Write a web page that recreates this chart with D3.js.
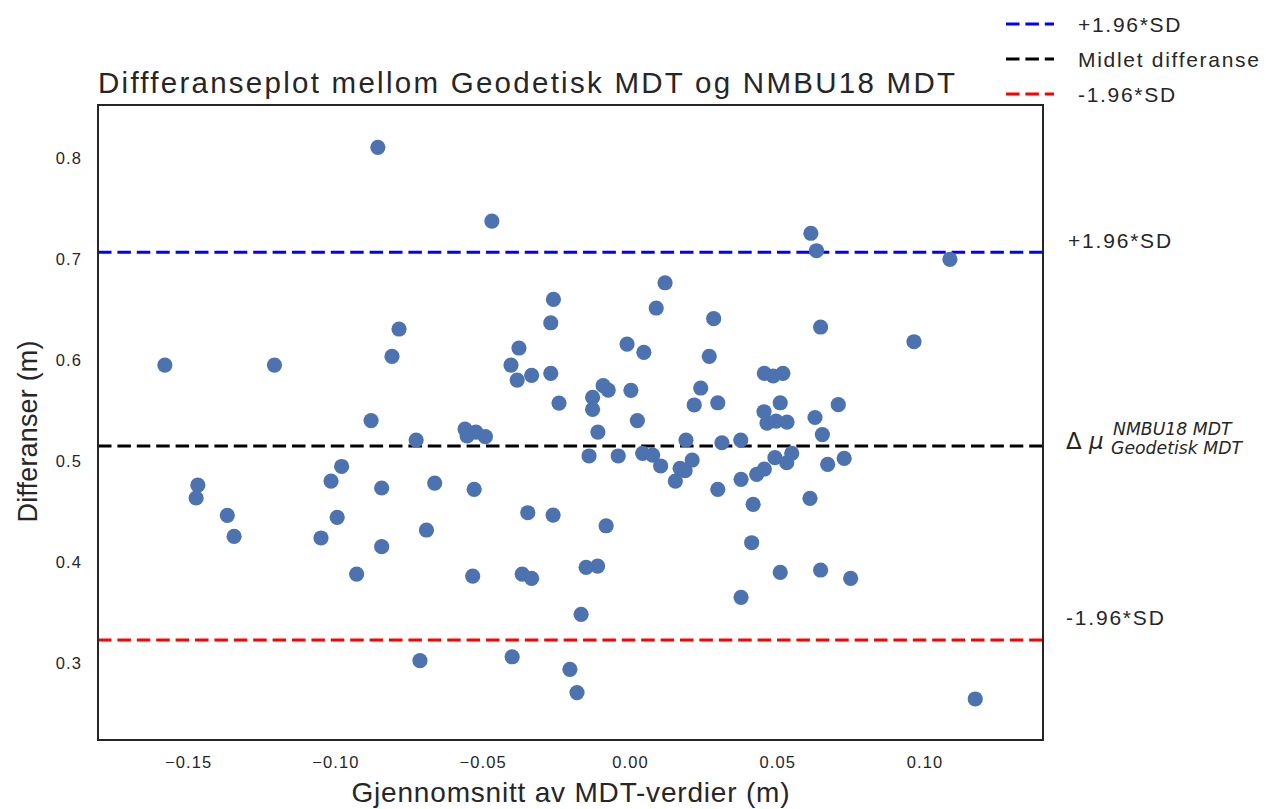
<!DOCTYPE html>
<html><head><meta charset="utf-8">
<script src="https://cdn.jsdelivr.net/npm/d3@7"></script>
<style>
body{margin:0;background:#fff;}
text{font-family:"Liberation Sans",Arial,sans-serif;fill:#262626;}
</style>
</head><body>
<svg id="c" width="1266" height="809"></svg>
<script>
// ---- data ----
const meanX = [-0.1579,-0.1207,-0.1467,-0.1473,-0.1367,-0.1344,-0.1015,-0.0994,-0.1049,-0.0979,
 -0.0928,-0.0879,-0.0856,-0.0843,-0.0843,-0.0808,-0.0784,-0.0726,-0.0713,-0.0691,
 -0.0663,-0.0560,-0.0553,-0.0523,-0.0491,-0.0529,-0.0534,-0.0469,-0.0404,-0.0400,
 -0.0383,-0.0377,-0.0366,-0.0347,-0.0334,-0.0334,-0.0269,-0.0269,-0.0260,-0.0261,
 -0.0241,-0.0204,-0.0180,-0.0166,-0.0149,-0.0110,-0.0139,-0.0127,-0.0127,-0.0109,
 -0.0091,-0.0074,-0.0081,-0.0040,-0.0010,0.0003,0.0025,0.0047,0.0043,0.0077,
 0.0089,0.0104,0.0119,0.0154,0.0170,0.0187,0.0190,0.0211,0.0218,0.0240,
 0.0269,0.0284,0.0298,0.0298,0.0312,0.0376,0.0377,0.0377,0.0413,0.0418,
 0.0430,0.0456,0.0456,0.0486,0.0519,0.0455,0.0465,0.0496,0.0533,0.0510,
 0.0492,0.0532,0.0549,0.0510,0.0611,0.0614,0.0633,0.0628,0.0647,0.0653,
 0.0671,0.0647,0.0707,0.0727,0.0749,0.0964,0.1086,0.1172];
const diffY = [0.5950,0.5950,0.4762,0.4634,0.4462,0.4254,0.4802,0.4443,0.4238,0.4946,
 0.3881,0.5401,0.8106,0.4733,0.4152,0.6037,0.6307,0.5208,0.3023,0.4317,
 0.4782,0.5317,0.5248,0.5287,0.5241,0.4720,0.3861,0.7376,0.5950,0.3062,
 0.5802,0.6119,0.3881,0.4488,0.3839,0.5849,0.6369,0.5868,0.6601,0.4465,
 0.5574,0.2938,0.2708,0.3482,0.3948,0.3960,0.5050,0.5631,0.5512,0.5287,
 0.5746,0.5703,0.4359,0.5050,0.6158,0.5700,0.5401,0.6076,0.5076,0.5059,
 0.6515,0.4951,0.6765,0.4802,0.4928,0.4904,0.5208,0.5010,0.5555,0.5723,
 0.6037,0.6409,0.5577,0.4720,0.5181,0.5208,0.4819,0.3651,0.4191,0.4571,
 0.4868,0.4921,0.5868,0.5842,0.5868,0.5488,0.5376,0.5396,0.5386,0.5577,
 0.5033,0.4983,0.5076,0.3898,0.4631,0.7255,0.7082,0.5431,0.6327,0.5262,
 0.4967,0.3921,0.5558,0.5027,0.3839,0.6181,0.6997,0.2644];
const xTicks = [-0.15,-0.10,-0.05,0.00,0.05,0.10];
const yTicks = [0.3,0.4,0.5,0.6,0.7,0.8];
const refValues = [0.7068, 0.5149, 0.3229];   // +1.96SD, mean, -1.96SD
const legendLabels = ["+1.96*SD","Midlet differanse","-1.96*SD"];
const lineColors = ["#0000ff","#000000","#ff0000"];
const titleText = "Diffferanseplot mellom Geodetisk MDT og NMBU18 MDT";
const xLabelText = "Gjennomsnitt av MDT-verdier (m)";
const yLabelText = "Differanser (m)";

// ---- layout ----
const svg = d3.select("#c");
const M = {left:98, right:1043, top:105, bottom:740};
const x = d3.scaleLinear().domain([-0.1806, 0.1402]).range([M.left, M.right]);
const y = d3.scaleLinear().domain([0.2238, 0.8525]).range([M.bottom, M.top]);
const dash = "13.5,5.9";
const mathFont = '"DejaVu Sans",sans-serif';

// title
svg.append("text").attr("x", M.left).attr("y", 93)
  .attr("font-size", 29.5).attr("textLength", 857).attr("lengthAdjust","spacing")
  .text(titleText);

// axes
const xa = svg.append("g").attr("transform",`translate(0,${M.bottom})`)
  .call(d3.axisBottom(x).tickValues(xTicks).tickSize(0).tickPadding(16).tickFormat(d3.format(".2f")));
xa.select(".domain").remove();
xa.selectAll("text").attr("font-size",16.5).attr("fill","#262626").attr("letter-spacing",1.1)
  .style("font-family",'"Liberation Sans",Arial,sans-serif');
const ya = svg.append("g").attr("transform",`translate(${M.left},0)`)
  .call(d3.axisLeft(y).tickValues(yTicks).tickSize(0).tickPadding(16).tickFormat(d3.format(".1f")));
ya.select(".domain").remove();
ya.selectAll("text").attr("font-size",16.5).attr("fill","#262626").attr("letter-spacing",1.1)
  .style("font-family",'"Liberation Sans",Arial,sans-serif');

// axis labels
svg.append("text").attr("x",(M.left+M.right)/2).attr("y",802).attr("text-anchor","middle")
  .attr("font-size",28).attr("textLength",438).attr("lengthAdjust","spacing").text(xLabelText);
svg.append("text").attr("transform",`translate(37,${(M.top+M.bottom)/2+9}) rotate(-90)`)
  .attr("text-anchor","middle").attr("font-size",27).attr("textLength",182).attr("lengthAdjust","spacing")
  .text(yLabelText);

// reference lines
svg.append("g").selectAll("line").data(refValues).join("line")
  .attr("x1",M.left).attr("x2",M.right)
  .attr("y1",d=>y(d)).attr("y2",d=>y(d))
  .attr("stroke",(d,i)=>lineColors[i]).attr("stroke-width",3).attr("stroke-dasharray",dash);

// points
svg.append("g").selectAll("circle").data(meanX).join("circle")
  .attr("cx",d=>x(d)).attr("cy",(d,i)=>y(diffY[i])).attr("r",7.6).attr("fill","#4c72b0");

// frame
svg.append("rect").attr("x",M.left).attr("y",M.top).attr("width",M.right-M.left).attr("height",M.bottom-M.top)
  .attr("fill","none").attr("stroke","#262626").attr("stroke-width",2);

// right-side labels
svg.append("text").attr("x",1068).attr("y",y(refValues[0])-4).attr("font-size",21).attr("letter-spacing",1.8).text("+1.96*SD");
svg.append("text").attr("x",1066).attr("y",y(refValues[2])-15).attr("font-size",21).attr("letter-spacing",1.8).text("-1.96*SD");
const ym = y(refValues[1]);
svg.append("text").attr("x",1066).attr("y",ym+3).attr("font-size",23)
  .style("font-family",mathFont).text("Δ");
svg.append("text").attr("x",1089).attr("y",ym+3).attr("font-size",23).attr("font-style","italic")
  .style("font-family",mathFont).text("μ");
svg.append("text").attr("x",1113).attr("y",ym-11).attr("font-size",17.3).attr("font-style","italic")
  .style("font-family",mathFont).text("NMBU18 MDT");
svg.append("text").attr("x",1111).attr("y",ym+8).attr("font-size",17.3).attr("font-style","italic")
  .style("font-family",mathFont).text("Geodetisk MDT");

// legend
const legY = [24,59,94];
const lg = svg.append("g");
legendLabels.forEach((lab,i)=>{
  lg.append("line").attr("x1",1006).attr("x2",1054).attr("y1",legY[i]).attr("y2",legY[i])
    .attr("stroke",lineColors[i]).attr("stroke-width",3).attr("stroke-dasharray",dash);
  lg.append("text").attr("x",1078).attr("y",legY[i]+7.5).attr("font-size",21).attr("letter-spacing",1.7).text(lab);
});
</script>
</body></html>
